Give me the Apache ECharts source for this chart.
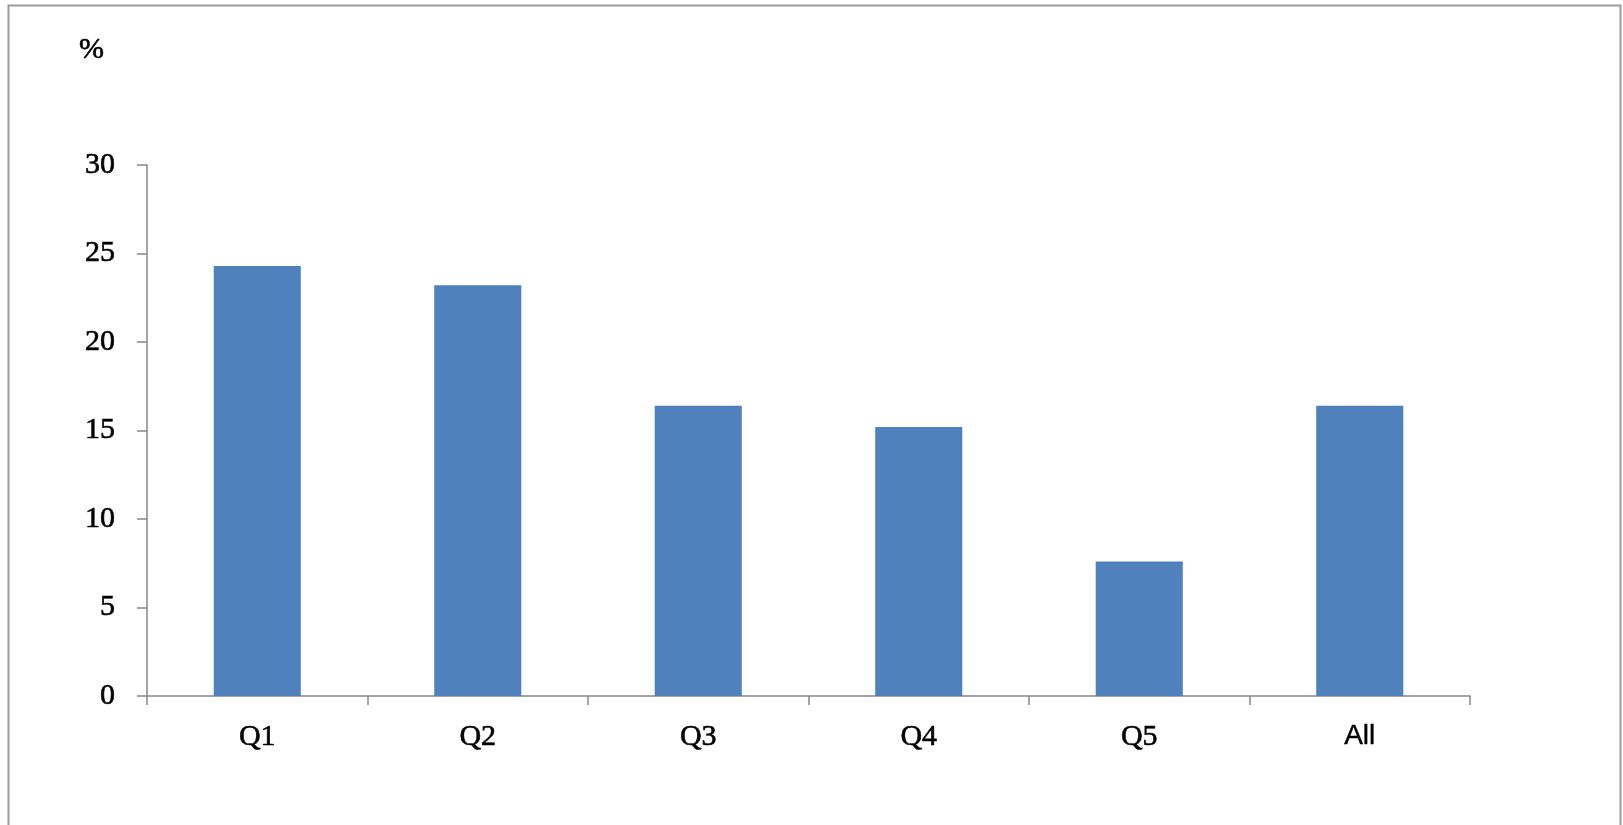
<!DOCTYPE html>
<html>
<head>
<meta charset="utf-8">
<script src="https://cdn.jsdelivr.net/npm/echarts@6/dist/echarts.min.js"></script>
<style>
html,body{margin:0;padding:0;background:#fff;}
#c{width:1623px;height:825px;}
</style>
</head>
<body>
<div id="c"></div>
<script>
const categories = ['Q1', 'Q2', 'Q3', 'Q4', 'Q5', 'All'];
const values = [24.3, 23.2, 16.4, 15.2, 7.6, 16.4];
const yTicks = [0, 5, 10, 15, 20, 25, 30];

const txt = { fontFamily: 'Liberation Serif', fontSize: 30, color: '#000', textBorderColor: '#000', textBorderWidth: 0.6 };

const chart = echarts.init(document.getElementById('c'));
chart.setOption({
  animation: false,
  backgroundColor: '#ffffff',
  title: {
    text: '%',
    left: 74,
    top: 30,
    textStyle: Object.assign({ fontWeight: 'normal' }, txt)
  },
  graphic: [{
    type: 'rect',
    shape: { x: 8.5, y: 5.5, width: 1612, height: 830 },
    style: { fill: 'none', stroke: '#9a9a9a', lineWidth: 2 },
    silent: true
  }],
  grid: { left: 147, right: 153, top: 165, bottom: 129 },
  xAxis: {
    type: 'category',
    data: categories,
    axisLine: { lineStyle: { color: '#868686', width: 1.5 } },
    axisTick: { show: true, length: 9, alignWithLabel: false, lineStyle: { color: '#868686', width: 1.5 } },
    axisLabel: Object.assign({ margin: 26,
      formatter: v => v === 'All' ? '{s|' + v + '}' : v,
      rich: { s: { fontFamily: 'Liberation Sans', fontSize: 28, color: '#000', textBorderColor: '#000', textBorderWidth: 0.4 } }
    }, txt),
    splitLine: { show: false }
  },
  yAxis: {
    type: 'value',
    min: 0, max: 30, interval: 5,
    axisLine: { show: true, lineStyle: { color: '#868686', width: 1.5 } },
    axisTick: { show: true, length: 10, lineStyle: { color: '#868686', width: 1.5 } },
    axisLabel: Object.assign({ margin: 32,
      formatter: v => yTicks.includes(v) ? String(v) : '' }, txt),
    splitLine: { show: false }
  },
  series: [{
    type: 'bar',
    data: values,
    barWidth: '39.5%',
    itemStyle: { color: '#4F81BD' }
  }]
});
</script>
</body>
</html>
